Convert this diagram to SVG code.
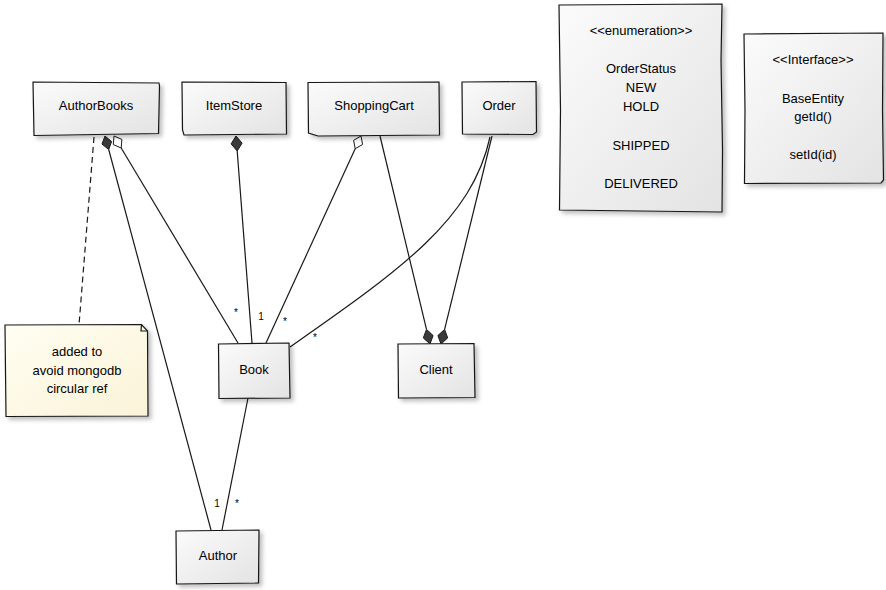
<svg xmlns="http://www.w3.org/2000/svg" width="886" height="590" viewBox="0 0 886 590">
<style>
  .box { fill: url(#g); stroke: #181818; stroke-width: 1.2; filter: url(#sh); }
  .note { fill: url(#gn); stroke: #181818; stroke-width: 1.2; filter: url(#sh); }
  .lbl { font-family: "Liberation Sans", Arial, sans-serif; font-size: 13px; fill: #000; text-anchor: middle; }
  .m { font-family: "Liberation Sans", Arial, sans-serif; font-size: 10px; fill: #000; text-anchor: middle; }
  .ln { fill: none; stroke: #181818; stroke-width: 1.2; }
  .dash { fill: none; stroke: #181818; stroke-width: 1.2; stroke-dasharray: 6 4; }
  .fd { fill: #3a3a3a; stroke: #181818; stroke-width: 1; }
  .hd { fill: #ffffff; stroke: #181818; stroke-width: 1; }
</style>
<defs>
  <linearGradient id="g" x1="0" y1="0" x2="1" y2="1">
    <stop offset="0" stop-color="#FBFBFB"/>
    <stop offset="1" stop-color="#E3E3E3"/>
  </linearGradient>
  <linearGradient id="gn" x1="0" y1="0" x2="1" y2="1">
    <stop offset="0" stop-color="#FFFEF2"/>
    <stop offset="1" stop-color="#FBF3D8"/>
  </linearGradient>
  <filter id="sh" x="-10%" y="-10%" width="130%" height="130%">
    <feDropShadow dx="3" dy="3" stdDeviation="2" flood-color="#000" flood-opacity="0.25"/>
  </filter>
</defs>

<g id="connectors">
  <!-- AuthorBooks to Note (dashed) -->
  <path class="dash" d="M94,137 L79,325"/>
  <!-- AuthorBooks (filled) to Author -->
  <path class="ln" d="M108.7,149.5 L211,530"/>
  <polygon class="fd" points="105,136 111.6,141.5 108.7,149.5 102,144.1"/>
  <!-- AuthorBooks (hollow) to Book -->
  <path class="ln" d="M121.2,148 L238,343"/>
  <polygon class="hd" points="114,136 121.9,139.4 121.2,148 113.3,144.6"/>
  <!-- ItemStore (filled) to Book -->
  <path class="ln" d="M237.2,151 L252,343"/>
  <polygon class="fd" points="236,136 242.1,143.1 237.2,151 231.1,143.9"/>
  <!-- ShoppingCart (hollow) to Book -->
  <path class="ln" d="M355.2,148.7 L266,343"/>
  <polygon class="hd" points="361,136 362.6,144.5 355.2,148.7 353.6,140.3"/>
  <!-- ShoppingCart to Client (filled at Client) -->
  <path class="ln" d="M380,136 L426.5,329.4"/>
  <polygon class="fd" points="430,344 433.1,335.5 426.5,329.4 423.3,337.9"/>
  <!-- Order to Client (filled at Client) -->
  <path class="ln" d="M492,136 L444.6,329.4"/>
  <polygon class="fd" points="441,344 447.7,337.9 444.6,329.4 437.9,335.5"/>
  <!-- Order to Book (curve) -->
  <path class="ln" d="M490,137 C472,220 400,270 290,347"/>
  <!-- Book to Author -->
  <path class="ln" d="M248,398 L222,530"/>
  <!-- multiplicities -->
  <text class="m" x="236" y="316">*</text>
  <text class="m" x="261" y="320">1</text>
  <text class="m" x="285" y="325">*</text>
  <text class="m" x="315" y="341">*</text>
  <text class="m" x="217" y="507">1</text>
  <text class="m" x="237" y="507">*</text>
</g>

<g id="AuthorBooks">
  <path class="box" d="M33,82 L159,83 L159.5,86 L158.5,133.5 L34,135.5 L33.5,108 Z"/>
  <text class="lbl" x="96" y="110">AuthorBooks</text>
</g>
<g id="ItemStore">
  <path class="box" d="M182,82 L286,82.5 L286.5,134 L184,135 L182.5,130 Z"/>
  <text class="lbl" x="234" y="110">ItemStore</text>
</g>
<g id="ShoppingCart">
  <path class="box" d="M308,82.5 L439,82 L439.5,135 L318,136 L308.5,133 Z"/>
  <text class="lbl" x="374" y="110">ShoppingCart</text>
</g>
<g id="Order">
  <path class="box" d="M462,82 L536,81.5 L536.5,132 L533,134.5 L462.5,134 Z"/>
  <text class="lbl" x="499" y="110">Order</text>
</g>
<g id="OrderStatus">
  <path class="box" d="M559,5 L722,4 L721,60 L722.5,150 L722,212 L559.5,210 L560.5,110 Z"/>
  <text class="lbl" x="641" y="35">&lt;&lt;enumeration&gt;&gt;</text>
  <text class="lbl" x="641" y="73">OrderStatus</text>
  <text class="lbl" x="641" y="92">NEW</text>
  <text class="lbl" x="641" y="111">HOLD</text>
  <text class="lbl" x="641" y="150">SHIPPED</text>
  <text class="lbl" x="641" y="188">DELIVERED</text>
</g>
<g id="BaseEntity">
  <path class="box" d="M744,34 L883,33 L882.5,110 L883.5,180 L881,183 L744.5,183.5 L745,110 Z"/>
  <text class="lbl" x="813" y="64">&lt;&lt;Interface&gt;&gt;</text>
  <text class="lbl" x="813" y="103">BaseEntity</text>
  <text class="lbl" x="813" y="121">getId()</text>
  <text class="lbl" x="813" y="159">setId(id)</text>
</g>
<g id="Note">
  <path class="note" d="M5,325 L141.5,324.5 L147.5,331 L148,416 L6,416.5 Z"/>
  <path class="ln" d="M141.5,324.5 L141,331 L147.5,331"/>
  <text class="lbl" x="77" y="356">added to</text>
  <text class="lbl" x="77" y="375">avoid mongodb</text>
  <text class="lbl" x="77" y="393">circular ref</text>
</g>
<g id="Book">
  <path class="box" d="M218.5,344 L289,343 L290,398 L219,398.5 Z"/>
  <text class="lbl" x="254" y="374">Book</text>
</g>
<g id="Client">
  <path class="box" d="M398,344 L474,343.5 L475,397.5 L398.5,398 Z"/>
  <text class="lbl" x="436" y="374">Client</text>
</g>
<g id="Author">
  <path class="box" d="M176,531 L259,530 L258.5,583 L176.5,584 Z"/>
  <text class="lbl" x="218" y="560">Author</text>
</g>
</svg>
